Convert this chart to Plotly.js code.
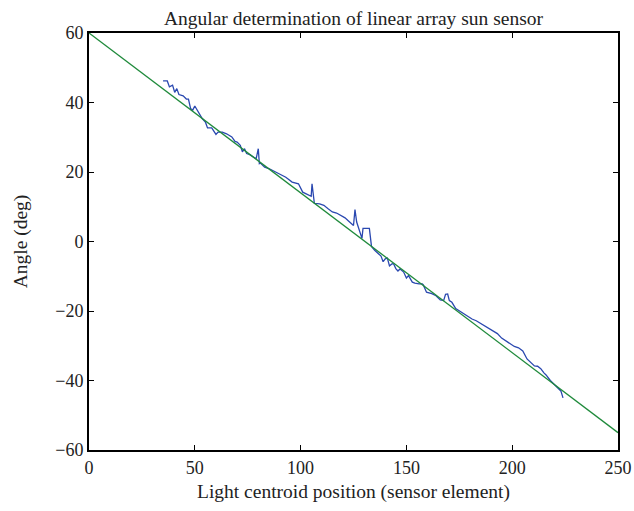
<!DOCTYPE html>
<html>
<head>
<meta charset="utf-8">
<script src="https://cdn.plot.ly/plotly-3.0.1.min.js"></script>
<style>
  html, body { margin: 0; padding: 0; background: #fff; }
  #chart { width: 634px; height: 511px; }
</style>
</head>
<body>
<div id="chart"></div>
<script>
// Measured light-centroid positions (sensor element) and angles (deg)
const measuredX = [35, 37, 38, 39.5, 40.5, 41.5, 42.5, 44.5, 46, 47, 48, 49, 50, 51.5, 53.5, 55, 56, 58, 60, 61, 63, 65, 66, 67.5, 69, 70, 71.5, 72.5, 73.5, 74.5, 76, 78, 79, 80, 80.5, 81, 83, 85, 88, 91, 93, 96, 99, 101, 103.5, 105, 105.4, 106.5, 109, 111, 113, 115, 117, 119, 121, 122.5, 124, 125, 125.7, 126.5, 129, 129.5, 132.5, 133.5, 135, 136.8, 138, 139, 140, 141, 142, 143.3, 144, 145, 146, 147, 148.7, 150, 151, 152.8, 154, 156, 157.5, 158, 159.5, 162, 164, 166, 167.6, 168.5, 169.5, 170.3, 171.5, 173.3, 175, 177, 179, 181, 183, 185, 187, 189, 191, 193, 195, 197, 199, 201, 203, 205, 207, 209, 210.5, 212, 213.5, 215, 216, 218, 220, 221.5, 223, 224];
const measuredY = [46.2, 46.2, 44.5, 45, 42.9, 44, 42.3, 41.9, 41, 41, 38.3, 37.8, 39, 37.3, 35.4, 34.4, 32.7, 32.7, 30.8, 31.5, 31.5, 31, 30.6, 30.1, 28.8, 28.6, 27.7, 25.8, 26.7, 25.3, 25, 24.3, 23.8, 26.7, 22.4, 22.6, 21.4, 21, 20, 19, 18.5, 17.1, 16.6, 14.2, 13.3, 13, 16.6, 11, 10.8, 10.4, 9.4, 8.5, 8.2, 7.5, 6.8, 6, 5.2, 4.6, 9.2, 5.6, 0.9, 3.8, 3.8, -1.4, -2.5, -3.5, -4.2, -5.8, -5, -4.8, -7, -6.4, -6.5, -7.8, -8.5, -7.9, -8.8, -10.5, -9.8, -11.7, -12, -12.2, -12.2, -12.5, -14.6, -15, -15.6, -16.8, -17, -15.2, -15.1, -17, -17.5, -19.3, -20, -20.8, -21.5, -22.3, -22.8, -23.5, -24.4, -25, -25.8, -26.5, -27.8, -28.6, -29.4, -30.2, -30.6, -31.5, -33.8, -34.8, -35.8, -35.9, -36.6, -37.8, -38.4, -40, -41.2, -42, -43, -45];

// Ideal (linear) reference line end points
const idealX = [0, 250];
const idealY = [60, -55];

// Axis ticks
const xTicks = [0, 50, 100, 150, 200, 250];
const yTicks = [-60, -40, -20, 0, 20, 40, 60];

const serif = 'Liberation Serif, Times New Roman, serif';

const traces = [
  {
    x: measuredX, y: measuredY, type: 'scatter', mode: 'lines',
    line: { color: '#2a48b0', width: 1.3 },
    hoverinfo: 'skip', showlegend: false
  },
  {
    x: idealX, y: idealY, type: 'scatter', mode: 'lines',
    line: { color: '#1f8a3b', width: 1.3 },
    hoverinfo: 'skip', showlegend: false
  }
];

const axisCommon = {
  showgrid: false, zeroline: false,
  showline: true, linecolor: '#000', linewidth: 2, mirror: 'ticks',
  ticks: 'inside', ticklen: 5, tickwidth: 1, tickcolor: '#000',
  tickfont: { family: serif, size: 18, color: '#222' }
};

const layout = {
  width: 634, height: 511,
  margin: { l: 89, r: 16, t: 33, b: 61 },
  paper_bgcolor: '#fff', plot_bgcolor: '#fff',
  title: {
    text: 'Angular determination of linear array sun sensor',
    font: { family: serif, size: 19.5, color: '#222' },
    x: 0.5, xref: 'paper', y: 0.965, yref: 'container', yanchor: 'middle'
  },
  xaxis: Object.assign({}, axisCommon, {
    range: [0, 250], tickvals: xTicks,
    title: { text: 'Light centroid position (sensor element)', font: { family: serif, size: 19.5, color: '#222' }, standoff: 8 }
  }),
  yaxis: Object.assign({}, axisCommon, {
    range: [-60, 60], tickvals: yTicks,
    title: { text: 'Angle (deg)', font: { family: serif, size: 19.5, color: '#222' }, standoff: 22 }
  })
};

Plotly.newPlot('chart', traces, layout, { staticPlot: true, displayModeBar: false });
</script>
</body>
</html>
